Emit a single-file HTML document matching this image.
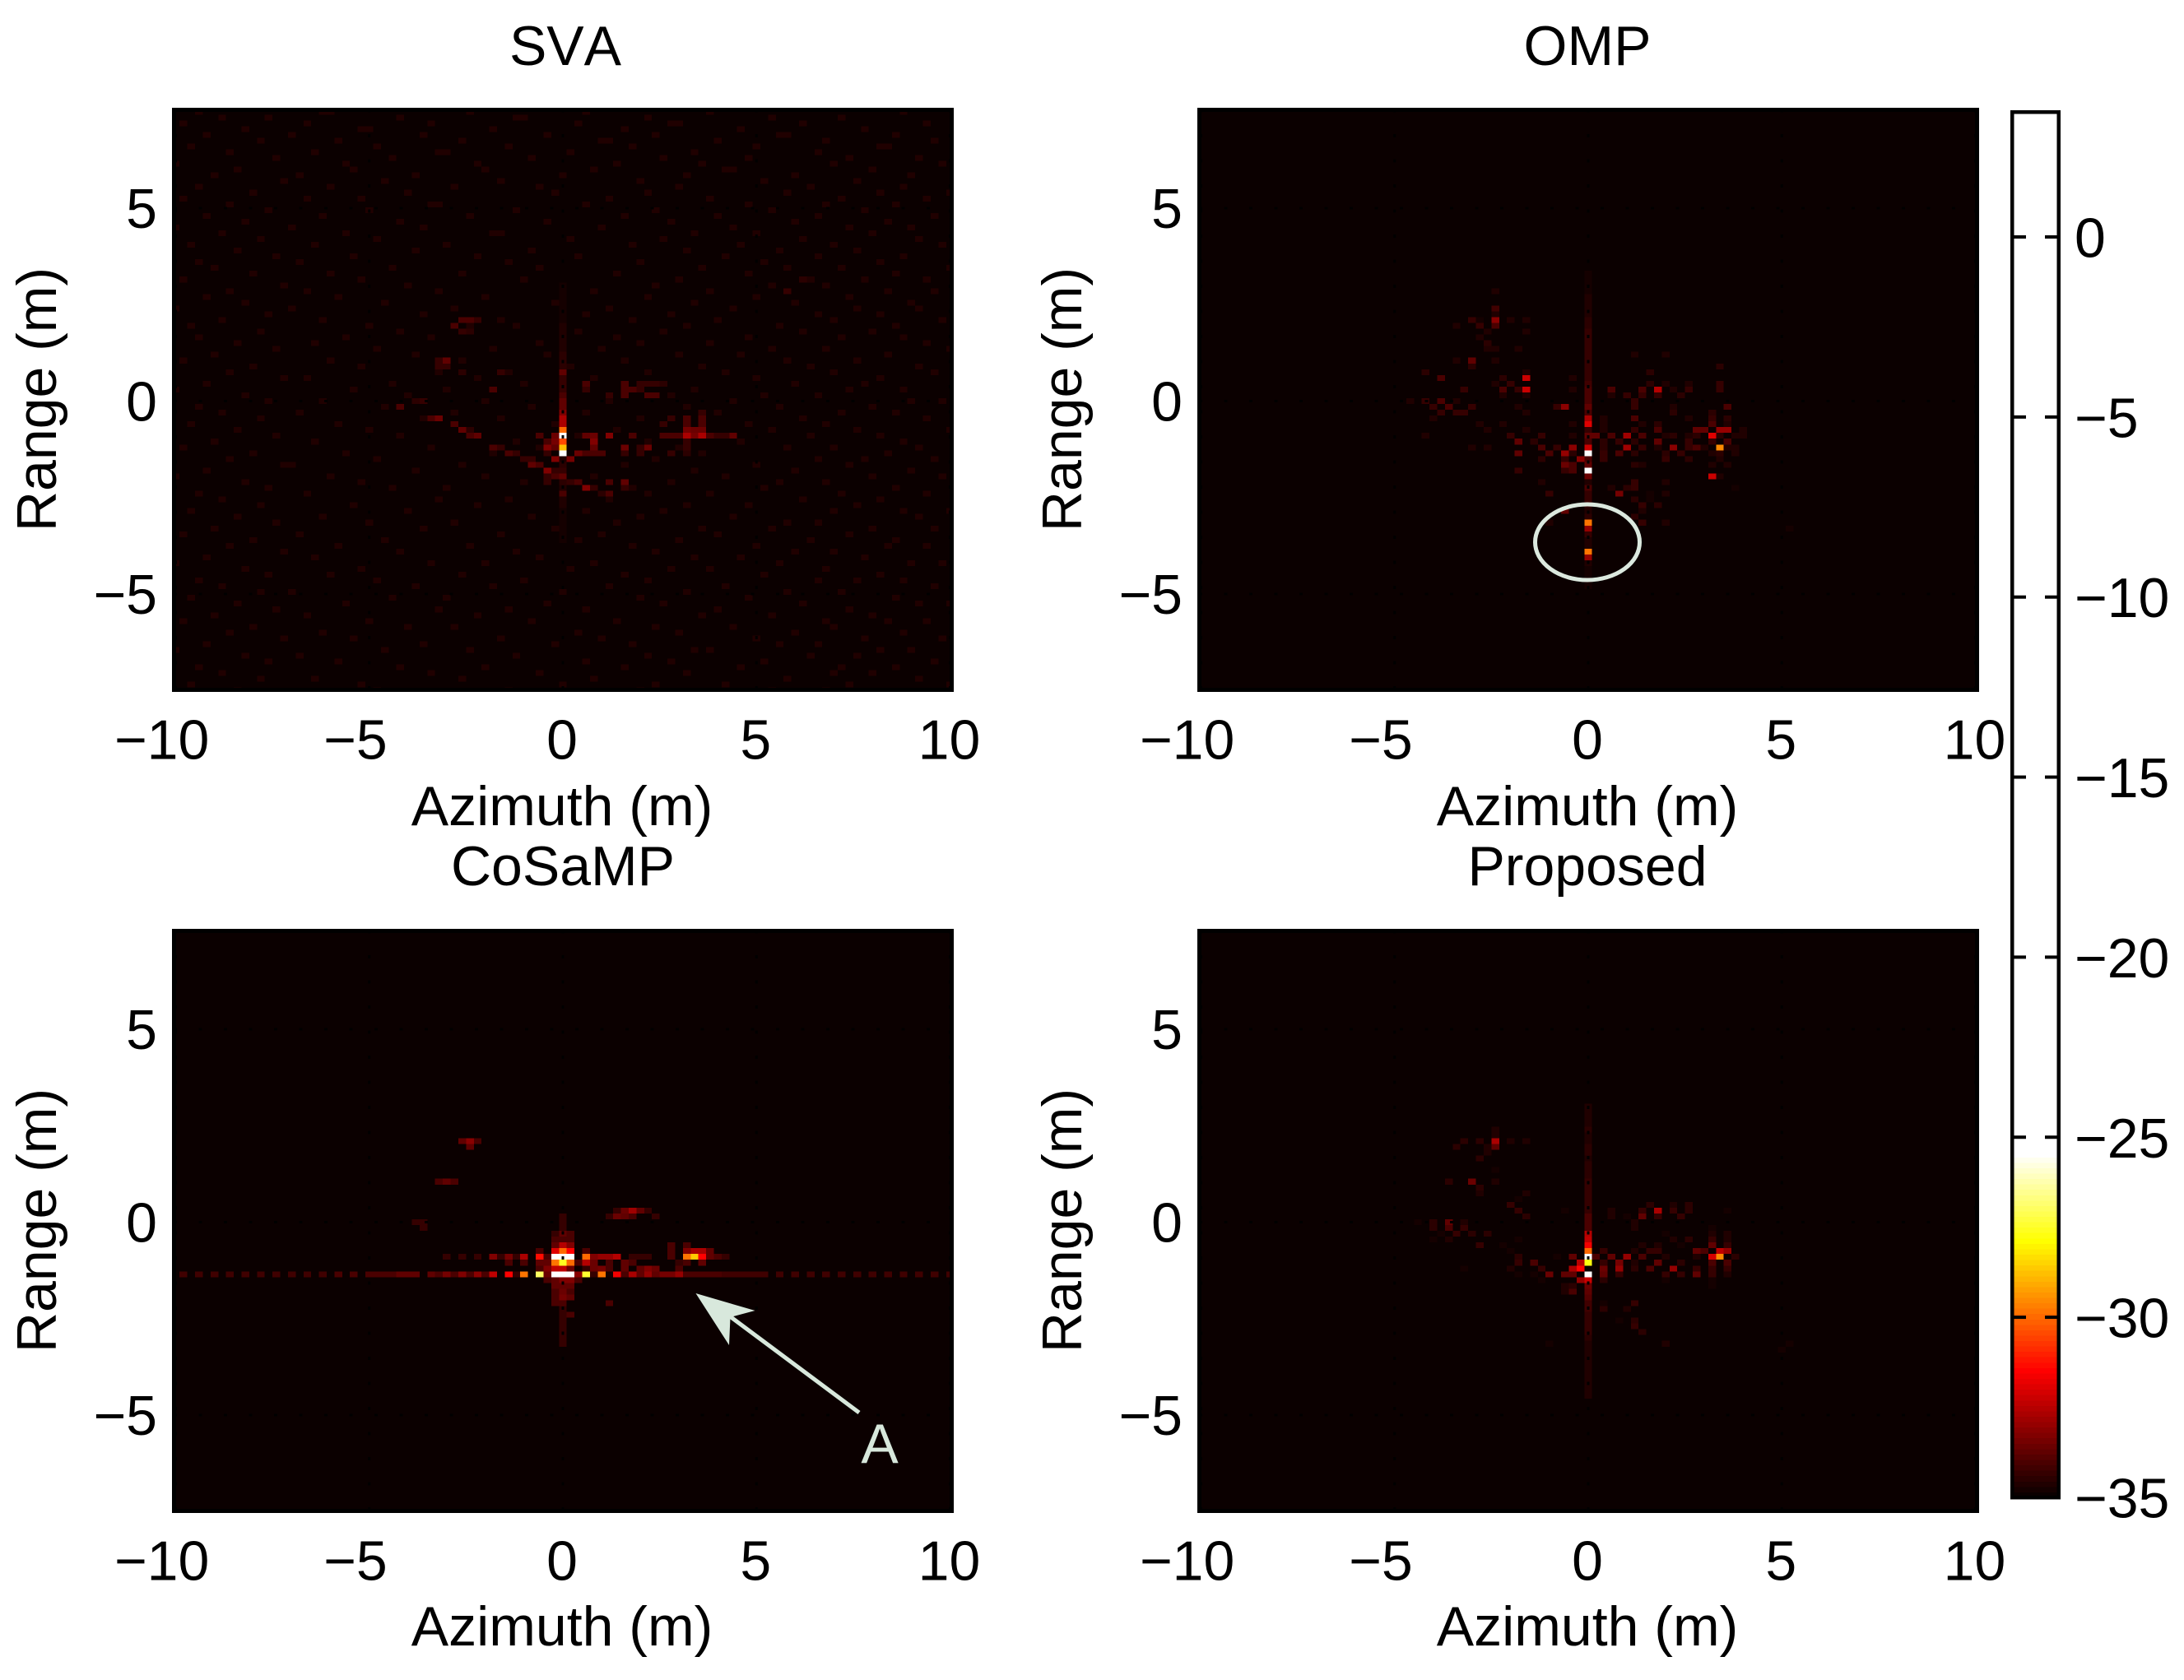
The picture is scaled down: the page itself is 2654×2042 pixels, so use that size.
<!DOCTYPE html>
<html lang="en">
<head>
<meta charset="utf-8">
<title>SVA, OMP, CoSaMP and Proposed range-azimuth images</title>
<style>
html,body{margin:0;padding:0;background:#fff}
svg{display:block}
text{font-family:"Liberation Sans",sans-serif;font-size:68px;font-kerning:none;fill:#000}
</style>
</head>
<body>
<svg id="figure" xmlns="http://www.w3.org/2000/svg" width="2654" height="2042" viewBox="0 0 2654 2042">
<rect width="2654" height="2042" fill="#fff"/>
<g id="panels"></g>

<text x="687" y="79" text-anchor="middle">SVA</text>
<text x="1929" y="79" text-anchor="middle">OMP</text>
<text x="684" y="1076" text-anchor="middle">CoSaMP</text>
<text x="1929" y="1076" text-anchor="middle">Proposed</text>

<text x="683" y="1003" text-anchor="middle">Azimuth (m)</text>
<text x="1929" y="1003" text-anchor="middle">Azimuth (m)</text>
<text x="683" y="2000" text-anchor="middle">Azimuth (m)</text>
<text x="1929" y="2000" text-anchor="middle">Azimuth (m)</text>

<text text-anchor="middle" transform="translate(68,485.5) rotate(-90)">Range (m)</text>
<text text-anchor="middle" transform="translate(1314,485.5) rotate(-90)">Range (m)</text>
<text text-anchor="middle" transform="translate(68,1483.5) rotate(-90)">Range (m)</text>
<text text-anchor="middle" transform="translate(1314,1483.5) rotate(-90)">Range (m)</text>

<ellipse cx="1929" cy="659" rx="63.5" ry="46" fill="none" stroke="#dce9df" stroke-width="5"/>
<g>
<line x1="1044" y1="1717" x2="887" y2="1600" stroke="#d8e8dc" stroke-width="5"/>
<polygon points="845.5,1572 917.5,1593 887.5,1601 886,1635" fill="#d8e8dc"/>
</g>
<text x="1069" y="1778" text-anchor="middle" style="fill:#d8e8dc">A</text>

<g id="colorbar"></g>
</svg>

<script>
// Axis tick values (metres / dB)
const azimuthTicks = [-10, -5, 0, 5, 10];
const rangeTicks = [-5, 0, 5];
const colorbarTicks = [0, -5, -10, -15, -20, -25, -30, -35];

// Every cell below is [azimuth bin, range bin (positive = further down), dB above the -35 dB floor].
// One azimuth bin is 0.2 m, one range bin is 0.15 m.
const svaCells = [
[-13,-14,1],[-12,-14,1],[-11,-14,.7],[-14,-13,1],[-13,-12,.6],[-12,-12,.45],
[-15,-7,1.2],[-16,-7,.6],[-16,-6,.6],[-15,-6,.7],[-13,-5,.45],[-8,-5,.6],
[-21,1,1],[-18,0,.7],[-19,0,.45],[-16,3,1.4],[-17,3,.9],[-14,4,1],[-13,5,1.2],[-12,5,.45],[-12,6,.9],[-11,6,1.2],
[-9,8,.9],[-8,8,.7],[-7,9,1],[-6,9,.6],[-5,10,.7],[-4,10,.6],[-4,11,1.2],[-3,11,.9],
[-2,12,1.7],[-1,12,.7],[-2,13,.6],[-1,13,.9],[-2,14,.6],[1,14,.7],[2,14,1],[3,15,1.7],[4,15,.7],[6,16,1],[5,16,.45],[6,14,.9],[8,14,1.2],[8,15,.7],
[-2,8,1.7],[-1,6,1.4],[-1,7,1.6],[-2,7,.9],[-2,9,.6],[-1,8,1.2],[-1,10,1.7],[1,10,1.6],[2,9,1.4],[3,9,.9],[4,9,.9],[5,9,.9],[-3,6,.9],
[3,6,1.3],[4,6,1.4],[6,6,1.7],[4,7,1.7],[4,8,1.3],[8,8,1.4],[11,8,1.4],[9,6,.9],[10,8,.7],[10,9,.7],[8,9,.6],
[3,-3,.9],[8,-3,.9],[10,-3,.7],[11,-3,.7],[12,-3,.6],[13,-3,.45],[3,-2,.6],[8,-2,1],[9,-2,1],[10,-2,.7],[-9,-2,1],
[6,-1,.6],[8,-1,.9],[11,-1,.9],[12,-1,.9],
[16,6,2.3],[17,6,1.6],[18,6,2.3],[16,5,1.6],[17,5,1.4],[18,5,1.4],[16,4,.9],[18,4,.9],[16,3,.9],[18,3,1],[18,2,.7],[14,3,.7],[13,4,.7],
[13,6,1],[14,6,.9],[15,6,.9],[19,6,.9],[22,6,1.2],[20,6,.6],[21,6,.6],[16,7,.6],[16,8,.6],[16,9,.45],[14,9,.6],
[29,-19,.7],[31,-21,.5]
];
const svaSpineFirstBin = -20;
const svaSpine = [.2,.2,.2,.2,.2,.2,.2,.3,.3,.3,.4,.3,.5,.5,.45,1.2,.6,.6,.6,1,1.2,1.2,1.7,2.3,2.3,5,12,4.6,6.2,12,.3,.45,.7,1.2,.45,.3,.9,.3,.3,.2,.2,.2,.2,.2,.2];

const ompCells = [
[-12,-19,.4],[-12,-16,.8],[-12,-15,.3],[-12,-14,1.9],[-12,-13,1],[-15,-14,.6],[-14,-14,.2],[-10,-14,.4],[-8,-14,.4],[-14,-13,.7],[-17,-13,.4],
[-13,-12,.3],[-8,-12,.4],[-14,-11,.4],[-13,-10,.5],[-13,-9,.4],[-12,-9,.4],[-9,-9,.3],[-17,-7,.4],[-15,-7,1.3],[-12,-7,.4],[-15,-6,.5],
[-21,-5,.5],[-8,-5,.3],[-19,-4,.9],[-8,-4,2.7],[-11,-4,.5],[-2,-4,.4],[-12,-3,.3],[-10,-3,.7],[-16,-2,.6],[-11,-2,.9],[-9,-2,.7],[-8,-2,2.7],[-2,-2,.4],
[-11,-1,.4],[-8,-1,.3],[-23,0,.3],[-21,0,.7],[-19,0,1],[-17,0,.3],[-20,1,.6],[-18,1,.9],[-15,1,.6],[-9,1,.3],[-4,1,.7],[-3,1,1.8],
[-19,2,.7],[-17,2,.6],[-16,2,.6],[-8,2,.4],[-20,3,.3],[-14,4,.4],[-11,4,.3],[-2,4,.3],[-13,5,.3],[-8,5,.3],[-21,6,.3],[-10,6,.7],[-6,6,.6],[-2,6,.3],
[-9,7,1.2],[-7,7,.5],[-6,8,.9],[-15,8,.4],[-13,8,.3],[-4,8,.6],[-2,8,1.8],[-9,9,1.3],[-5,9,.9],[-3,9,2],[-2,9,.5],[-6,10,.5],[-3,10,.6],[-1,10,1.8],
[-3,11,1.4],[-2,11,1],[-9,12,.7],[-3,12,.7],[-2,12,.9],[-6,14,.4],[-5,16,.7],[-3,19,1.3],[-5,21,.3],
[6,-8,.4],[10,-8,.4],[17,-6,.5],[8,-5,.5],[8,-3,.5],[10,-3,.3],[13,-3,.4],[17,-3,.6],[3,-2,1],[7,-2,.9],[9,-2,2.4],[11,-2,.3],[13,-2,.7],[17,-2,.6],
[5,-1,.6],[7,-1,.7],[9,-1,.7],[12,-1,.5],[3,-1,.3],[6,0,.6],[6,1,.7],[11,1,.3],[18,1,.9],[11,2,.5],[16,2,.5],
[2,3,.3],[6,3,.9],[13,3,.3],[16,3,.6],[18,3,.5],[2,4,.3],[7,4,.4],[9,4,.5],[16,4,.9],[18,4,.4],
[2,5,.3],[6,5,.6],[9,5,.9],[14,5,1.2],[15,5,1.2],[17,5,2],[18,5,2],[20,5,.3],
[1,6,1.2],[3,6,1],[5,6,2.2],[7,6,1],[10,6,.4],[11,6,.5],[13,6,.4],[14,6,.5],[16,6,3],[17,6,.5],[19,6,.3],[20,6,.3],
[2,7,.5],[4,7,.6],[6,7,.5],[9,7,1.2],[13,7,.6],[16,7,.7],[18,7,.9],
[2,8,.5],[5,8,2.2],[7,8,.7],[9,8,.3],[11,8,1.9],[13,8,.6],[14,8,1],[15,8,.3],[17,8,5.4],[18,8,.4],[19,8,.3],
[2,9,.6],[4,9,.9],[6,9,.5],[10,9,.5],[12,9,.7],[16,9,.3],[17,9,.5],[19,9,.3],[2,10,.6],[10,10,.6],[13,10,.5],[17,10,.3],
[6,11,.5],[7,11,.4],[16,11,.3],[18,11,.3],[16,13,2.7],[17,13,.3],[6,14,.6],[10,14,.3],[3,15,.3],[5,15,.5],[6,15,.7],[19,15,.2],
[4,16,1.6],[8,16,.2],[10,16,.4],[6,17,.5],[8,17,.2],[7,18,.7],[9,18,.5],[7,19,.4],[6,20,.5],[7,21,.7],[10,21,.4],[26,22,.2]
];
const ompSpineFirstBin = -22;
const ompSpine = [.15,.15,.2,.2,.3,.3,.4,.4,.5,.5,.6,.6,.7,.7,.7,.7,.7,.7,.7,.8,.9,.9,.9,1.2,1,2.3,3,.7,1.2,1,2.8,12,.9,1.3,12,1.4,.3,.9,.7,.6,.5,.4,.5,5.1,2,.7,.4,.3,5.1,2,.3,.2,.2,.15,.15];

const cosampCells = [
[-13,-14,1.2],[-12,-14,1.9],[-11,-14,.9],[-12,-13,1.3],[-16,-7,.9],[-15,-7,1.3],[-14,-7,.9],[-19,0,.7],[-18,0,.6],[-18,1,.7],
[7,-2,.7],[8,-2,1.4],[9,-2,2.2],[10,-2,1.3],[11,-2,.6],[6,-1,.7],[7,-1,1.4],[8,-1,1.3],[9,-1,.9],[12,-1,.7],
[-1,2,.7],[1,2,.9],[-1,3,.9],[1,3,.9],[-1,4,1.3],[1,4,1.7],[-3,5,.9],[-1,5,3],[1,5,3.5],[3,5,.9],
[-15,6,.7],[-13,6,.7],[-11,6,.7],[-9,6,1.7],[-8,6,.7],[-7,6,1.6],[-6,6,.7],[-5,6,2.3],[-3,6,3.6],[-2,6,.9],[-1,6,12],[1,6,12],[3,6,5],[4,6,1.7],[5,6,2],[6,6,2],[7,6,2.4],
[9,6,.7],[10,6,.7],[11,6,.7],[14,6,1],[16,6,5.1],[17,6,6.4],[18,6,3.5],[19,6,1.3],[20,6,.9],[21,6,.7],
[14,5,1],[16,5,1.7],[17,5,2.3],[18,5,2.3],[19,5,1.2],[16,4,.9],[14,4,.9],
[-7,7,1],[-5,7,1],[-3,7,1.3],[-2,7,1.3],[-1,7,5.2],[1,7,5],[2,7,.9],[3,7,2.4],[4,7,1.4],[6,7,.9],[8,7,1.3],[9,7,1],[15,7,.6],[16,7,1],[18,7,1.3],
[-3,8,.9],[-2,8,1.7],[-1,8,2.6],[1,8,1.4],[3,8,.6],[4,8,1.4],[5,8,1.6],[6,8,.9],[8,8,1.3],[10,8,1.3],[11,8,1.7],[12,8,1.4],[15,8,.9],
[-2,10,.9],[-1,10,1.3],[1,10,1.7],[2,10,.9],[-1,11,1.2],[1,11,1.3],[-1,12,1],[1,12,1],[-1,13,.9],[1,13,1.3],[-1,14,.9],[6,14,1],[1,16,.9]
];
const cosampSpineFirstBin = -1;
const cosampSpine = [.6,.7,.7,1.2,1,2.4,5,12,7.4,2.6,12,1.7,1.3,1.4,1.6,1,.7,.7,.7,.7,.6,.6,.6];
const cosampStreakBins = [-49,-47,-45,-43,-41,-39,-37,-35,-33,-31,-29,-27,-25,-24,-23,-22,-21,-20,-19,-17,-16,-15,-14,-13,-12,-11,-10,-9,-7,-6,-5,-3,-2,-1,1,2,3,4,5,6,7,8,9,10,11,12,13,14,15,16,17,18,19,20,21,22,23,24,25,26,28,30,32,34,36,38,40,42,44,46,48,50];
const cosampStreakDb = [.8,.8,.8,.8,.8,.8,.8,.8,.8,.8,.9,.9,.9,.9,1,1,1.2,1.2,1.2,1.3,.9,1.6,1,1.7,1,1.9,1,2.6,3.5,.7,5.2,8,1.4,12,12,1.8,7.5,.7,5.2,.2,3.3,1,2.3,1.3,2,1.2,1.5,1.5,2,.9,.9,.9,.9,.9,.8,.8,.8,.8,.8,.8,.8,.8,.8,.8,.8,.8,.8,.8,.8,.8,.8,.8];
const cosampStreakRangeBin = 9;

const proposedCells = [
[-12,-16,.4],[-12,-15,.4],[-16,-14,.45],[-14,-14,.45],[-12,-14,2.3],[-10,-14,.3],[-8,-14,.3],[-17,-13,.45],[-13,-13,.4],[-12,-13,1.2],[-13,-12,.4],[-14,-11,.5],[-12,-9,.2],
[-18,-7,.45],[-15,-7,1.4],[-12,-7,.4],[-16,-6,.1],[-14,-6,.45],[-14,-5,.3],[-8,-5,.4],[-9,-4,.2],
[-10,-3,.6],[8,-3,.45],[11,-3,.4],[13,-3,.5],[-9,-2,.6],[-3,-2,.2],[3,-2,.3],[7,-2,.6],[9,-2,2.3],[11,-2,.6],[13,-2,.45],[18,-2,.2],
[-8,-1,.5],[3,-1,.3],[5,-1,.2],[7,-1,1.2],[9,-1,.6],[12,-1,.7],
[-22,0,.2],[-20,0,.45],[-18,0,1.2],[-16,0,.3],[6,0,.4],[-20,1,.45],[-18,1,.9],[-16,1,.7],[6,1,.3],[16,1,.2],
[-19,2,.2],[-17,2,.7],[-15,2,.45],[-13,2,.5],[10,2,.2],[16,2,.3],[18,2,.4],
[-20,3,.2],[-18,3,.3],[-9,3,.2],[11,3,.4],[13,3,.5],[16,3,.6],[18,3,.4],
[-14,4,.6],[-11,4,.2],[7,4,.3],[9,4,.4],[12,4,.2],[16,4,1.2],[18,4,.6],
[-10,5,.2],[2,5,.6],[6,5,.3],[8,5,.7],[9,5,.7],[14,5,1.2],[15,5,1],[17,5,2.6],[18,5,2],[24,5,.1],
[-15,6,.1],[-9,6,.45],[-4,6,.2],[-2,6,1.2],[1,6,.9],[3,6,1.3],[5,6,2],[7,6,.9],[10,6,.3],[14,6,.3],[16,6,2.9],[17,6,5.5],[19,6,.45],
[-9,7,.6],[-7,7,.9],[-1,7,2.4],[2,7,.6],[4,7,1.6],[6,7,.4],[9,7,1.3],[12,7,.45],[16,7,.9],[18,7,1],
[-16,8,.2],[-10,8,.3],[-6,8,.6],[-2,8,2.3],[-1,8,3.5],[2,8,1.4],[4,8,2],[6,8,.45],[8,8,.9],[11,8,2],[14,8,.7],[16,8,.6],[18,8,.7],
[-9,9,.2],[-7,9,.2],[-5,9,1.4],[-3,9,1.3],[-2,9,1.3],[2,9,1.3],[4,9,.7],[6,9,.1],[10,9,.6],[12,9,.7],[14,9,1.3],[16,9,.6],[18,9,.3],
[-6,10,.2],[-1,10,2],[2,10,.45],[10,10,.2],[16,10,.2],[-3,11,.3],[-2,11,.5],[16,11,.2],[-3,12,.3],[-2,12,.9],
[2,14,.2],[6,14,.7],[2,15,.45],[5,15,.4],[4,17,.2],[6,17,.5],[6,18,.7],[7,19,.45],[-5,21,.2],[10,21,.4],[26,21,.2],[25,22,.2]
];
const proposedSpineFirstBin = -20;
const proposedSpine = [.4,.4,.4,.4,.5,.4,.4,.5,.5,.4,.5,.5,.5,.7,.7,.7,.7,.7,.7,1,.9,1,2.4,2.6,3.3,5,12,7.2,0,12,2.7,1.4,1.3,1.1,.8,.8,.7,.7,.6,.6,.5,.4,.4,.3,.3,.3,.3,.3,.3,.3,.3];

// Faint clutter in the SVA image: for each range bin, top to bottom, the azimuth bins sitting above the floor.
const svaClutterDb = 0.3;
const svaClutterBins = [
[-47,-31,-30,-12,3,19,44],
[-44,-38,-21,-6,-5,11,27,36],
[-49,-33,-17,2,14,15,31,47],
[-41,-26,-25,-9,8,23,39],
[-46,-35,-18,-2,12,28,29,43],
[-39,-29,-13,5,6,20,34,48],
[-48,-24,-7,9,25,41,42],
[-43,-32,-16,-15,1,17,33],
[-37,-22,-4,13,24,37,46],
[-50,-28,-11,7,18,35,49],
[-42,-27,-10,4,21,22,40],
[-45,-34,-19,0,16,30,45],
[-36,-23,-8,10,26,38],
[-47,-30,-14,-3,15,32,44],
[-40,-20,-1,11,29,41,50],
[-49,-33,-26,6,19,36,47],
[-43,-17,-16,3,24,34,43],
[-38,-25,-6,12,27,39],
[-46,-31,-12,8,20,33,48],
[-41,-21,-2,14,30,42],
[-50,-35,-18,5,22,37,45],
[-44,-28,-9,-8,17,25,40],
[-39,-24,1,13,31,46],
[-48,-32,-15,9,23,35,49],
[-42,-19,-4,16,28,38],
[-37,-27,-11,2,21,33,44],
[-47,-34,-7,10,26,41],
[-45,-22,-3,18,29,36,50],
[-40,-30,-13,7,24,43],
[-49,-26,-5,15,32,39,47],
[-36,-20,0,12,27,34],
[-43,-33,-16,4,19,42,48],
[-46,-29,-10,11,25,37],
[-41,-23,-1,17,30,45],
[-50,-35,-14,6,22,38,46],
[-38,-18,3,14,33,41],
[-44,-31,-8,9,20,35,49],
[-48,-25,-12,-6,16,28,43],
[-39,-21,2,13,31,40],
[-47,-28,-17,7,24,36,44],
[-42,-32,-3,10,19,47],
[-37,-24,-9,5,27,34,50],
[-45,-19,-2,15,23,42],
[-49,-30,-13,8,29,38],
[-40,-26,1,18,32,46],
[-43,-16,-7,11,21,35,48],
[-36,-33,-11,4,25,41],
[-46,-22,-5,12,30,39],
[-50,-27,-15,9,17,37,44],
[-41,-20,0,14,26,33],
[-38,-31,-10,6,22,45,49],
[-47,-23,-4,16,28,40],
[-44,-34,-14,3,20,36,43],
[-39,-18,-8,10,31,47],
[-48,-29,-1,13,24,34],
[-42,-25,-12,7,27,38,50],
[-37,-21,2,19,32,41],
[-45,-32,-6,11,23,44],
[-49,-17,-3,15,29,35,46],
[-40,-28,-9,5,18,42],
[-43,-24,1,12,33,39,48],
[-36,-35,-13,8,25,37],
[-46,-19,-2,17,30,45],
[-50,-30,-10,4,21,40,49],
[-41,-26,-5,14,28,34],
[-38,-22,-15,9,26,43],
[-47,-33,0,11,19,36,47],
[-44,-16,-7,6,31,41],
[-39,-27,-11,16,24,38],
[-48,-20,3,13,35,44,50],
[-42,-31,-4,10,22,46],
[-37,-25,-14,7,29,33],
[-45,-18,-1,18,27,40,48],
[-49,-34,-8,5,20,37],
[-40,-23,2,15,32,43],
[-43,-29,-12,9,25,42,47],
[-36,-21,-6,12,30,35],
[-46,-32,-3,17,23,39],
[-50,-17,-10,4,28,45,49],
[-41,-26,1,14,19,34],
[-38,-30,-13,8,26,41],
[-47,-24,-5,11,33,38,44],
[-44,-19,-9,6,21,48],
[-39,-35,0,16,29,36],
[-48,-22,-15,10,24,43],
[-42,-28,-2,13,31,46,50],
[-37,-16,-7,3,20,37],
[-45,-33,-11,18,27,40],
[-49,-25,-4,7,34,42,47],
[-40,-20,-14,12,22,35],
[-43,-31,2,15,30,44],
[-36,-27,-8,5,25,39,49],
[-46,-18,-1,9,28,33],
[-50,-23,-12,17,19,41,45],
[-41,-34,-6,11,32,38],
[-38,-29,3,14,26,48],
[-47,-21,-10,8,23,36,43],
[-44,-17,-3,16,35,40],
[-39,-32,-13,4,29,46],
[-48,-26,0,12,21,37,50],
[-42,-24,-7,10,27,34]
];

// Plot geometry
const plotWidth = 950, plotHeight = 710;
const pxPerMetreX = 47.05, pxPerMetreY = 46.9;
const azimuthBinMetres = 0.2, rangeBinMetres = 0.15;
const floorDb = -35, hotSpanDb = 9.6;

const panels = [
  {name:'sva', left:209, top:131},
  {name:'omp', left:1455, top:131},
  {name:'cosamp', left:209, top:1129},
  {name:'proposed', left:1455, top:1129}
];
const NS = 'http://www.w3.org/2000/svg';

function xScale(p, az){ return p.left + 475 + az * pxPerMetreX; }
function yScale(p, rng){ return p.top + 356.5 - rng * pxPerMetreY; }

// MATLAB hot(64) colour lookup, driven by dB above the floor
function hotColor(rise){
  var i = Math.max(0, Math.min(63, Math.floor(rise / hotSpanDb * 64 + 0.001)));
  var r = Math.min(1, (i + 1) / 24);
  var g = Math.max(0, Math.min(1, (i + 1 - 24) / 24));
  var b = Math.max(0, Math.min(1, (i + 1 - 48) / 16));
  return 'rgb(' + Math.round(r * 255) + ',' + Math.round(g * 255) + ',' + Math.round(b * 255) + ')';
}

function svgEl(tag, attrs){
  var el = document.createElementNS(NS, tag);
  for (var k in attrs) el.setAttribute(k, attrs[k]);
  return el;
}

function drawCell(group, p, azBin, rangeBin, rise){
  var cw = azimuthBinMetres * pxPerMetreX, ch = rangeBinMetres * pxPerMetreY;
  var rect = svgEl('rect', {
    x: xScale(p, azBin * azimuthBinMetres) - cw / 2,
    y: yScale(p, -rangeBin * rangeBinMetres) - ch / 2,
    width: cw, height: ch, fill: hotColor(rise)
  });
  
  
  group.appendChild(rect);
}

function drawSpine(group, p, firstBin, values){
  values.forEach(function(v, i){ drawCell(group, p, 0, firstBin + i, v); });
}

function tickText(t){ return (t < 0 ? '\u2212' : '') + Math.abs(t); }

function drawPanel(p){
  var root = document.getElementById('panels');
  var g = svgEl('g', {});
  
  
  root.appendChild(g);

  var clipId = 'clip-' + p.name;
  var clip = svgEl('clipPath', {id: clipId});
  clip.appendChild(svgEl('rect', {x: p.left, y: p.top, width: plotWidth, height: plotHeight}));
  g.appendChild(clip);

  var image = svgEl('g', {'clip-path': 'url(#' + clipId + ')', 'shape-rendering': 'crispEdges'});
  
  
  g.appendChild(image);

  var bg = svgEl('rect', {x: p.left, y: p.top, width: plotWidth, height: plotHeight, fill: hotColor(0)});
  
  
  image.appendChild(bg);

  if (p.name === 'sva') {
    svaClutterBins.forEach(function(bins, r){
      bins.forEach(function(c){ drawCell(image, p, c, r - 50, svaClutterDb); });
    });
    svaCells.forEach(function(d){ drawCell(image, p, d[0], d[1], d[2]); });
    drawSpine(image, p, svaSpineFirstBin, svaSpine);
  } else if (p.name === 'omp') {
    ompCells.forEach(function(d){ drawCell(image, p, d[0], d[1], d[2]); });
    drawSpine(image, p, ompSpineFirstBin, ompSpine);
  } else if (p.name === 'cosamp') {
    cosampStreakBins.forEach(function(b, i){ drawCell(image, p, b, cosampStreakRangeBin, cosampStreakDb[i]); });
    cosampCells.forEach(function(d){ drawCell(image, p, d[0], d[1], d[2]); });
    drawSpine(image, p, cosampSpineFirstBin, cosampSpine);
  } else {
    proposedCells.forEach(function(d){ drawCell(image, p, d[0], d[1], d[2]); });
    drawSpine(image, p, proposedSpineFirstBin, proposedSpine);
  }

  // dotted grid
  azimuthTicks.forEach(function(t){
    var x = xScale(p, t);
    var line = svgEl('line', {x1: x, x2: x, y1: p.top + plotHeight - 3, y2: p.top, stroke: '#000', 'stroke-width': 3, 'stroke-dasharray': '4 26.5'});
    
    
    g.appendChild(line);
  });
  rangeTicks.forEach(function(t){
    var y = yScale(p, t);
    var line = svgEl('line', {x1: p.left + 2, x2: p.left + plotWidth, y1: y, y2: y, stroke: '#000', 'stroke-width': 3, 'stroke-dasharray': '4 26.5'});
    
    
    g.appendChild(line);
  });

  // axes box
  var box = svgEl('rect', {x: p.left + 2.5, y: p.top + 2.5, width: plotWidth - 5, height: plotHeight - 5, fill: 'none', stroke: '#000', 'stroke-width': 5});
  
  
  g.appendChild(box);

  // tick labels: digits stay centred on the tick, the minus sign hangs to the left
  var digitWidth = 0.556 * 68;
  azimuthTicks.forEach(function(t){
    var digits = String(Math.abs(t));
    var shift = t < 0 ? 3 : -1;
    var label = svgEl('text', {x: xScale(p, t) + digits.length * digitWidth / 2 + shift, y: p.top + 791.5, 'text-anchor': 'end'});
    label.textContent = tickText(t);
    
    
    g.appendChild(label);
  });
  rangeTicks.forEach(function(t){
    var label = svgEl('text', {x: p.left - 18, y: yScale(p, t) + 24, 'text-anchor': 'end'});
    label.textContent = tickText(t);
    
    
    g.appendChild(label);
  });
}

panels.forEach(drawPanel);

// Colorbar
(function(){
  var cb = document.getElementById('colorbar');
  var left = 2443, right = 2504, top = 134, zeroY = 288, pxPerDb = 43.77;
  function cbY(db){ return zeroY - db * pxPerDb; }
  var bottom = cbY(floorDb);

  var white = svgEl('rect', {x: left, y: top, width: right - left, height: bottom - top, fill: '#fff'});
  
  
  cb.appendChild(white);

  for (var i = 0; i < 64; i++) {
    var low = floorDb + i * hotSpanDb / 64, high = floorDb + (i + 1) * hotSpanDb / 64;
    var band = svgEl('rect', {x: left, y: cbY(high), width: right - left, height: cbY(low) - cbY(high) + 0.5, fill: hotColor(low - floorDb + 0.01), 'shape-rendering': 'crispEdges'});
    
    
    cb.appendChild(band);
  }

  var frame = svgEl('rect', {x: left + 2.25, y: top + 2.25, width: right - left - 4.5, height: bottom - top - 2, fill: 'none', stroke: '#000', 'stroke-width': 4.5});
  
  
  cb.appendChild(frame);

  colorbarTicks.forEach(function(t){
    var y = cbY(t);
    var a = svgEl('line', {x1: left + 4, x2: left + 19, y1: y, y2: y, stroke: '#000', 'stroke-width': 4});
    
    
    cb.appendChild(a);
    var b = svgEl('line', {x1: right - 19, x2: right - 4, y1: y, y2: y, stroke: '#000', 'stroke-width': 4});
    
    
    cb.appendChild(b);
    var label = svgEl('text', {x: 2521, y: y + 24.5});
    label.textContent = tickText(t);
    
    
    cb.appendChild(label);
  });
})();
</script>
</body>
</html>
